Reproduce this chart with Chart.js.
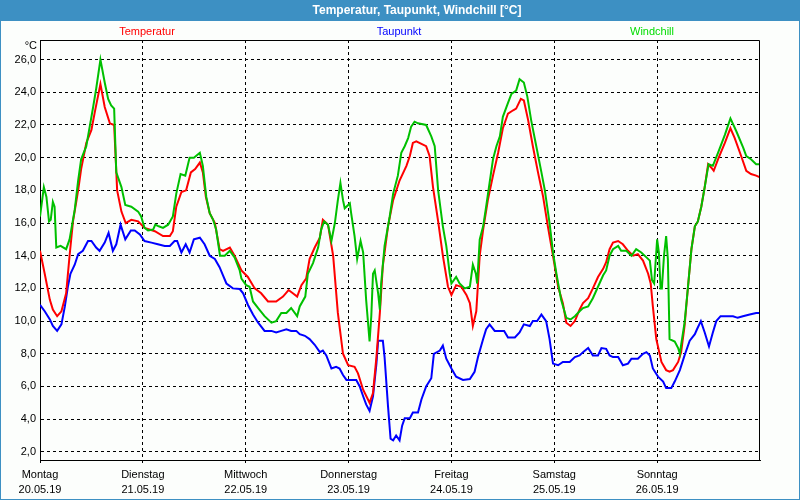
<!DOCTYPE html>
<html><head><meta charset="utf-8">
<script src="https://cdn.jsdelivr.net/npm/chart.js@4/dist/chart.umd.min.js"></script>
<style>html,body{margin:0;padding:0;background:#fff}#wrap{position:relative;width:800px;height:500px}</style>
</head><body><div id="wrap"><canvas id="c" width="800" height="500"></canvas></div>
<script>
const chartTitle = 'Temperatur, Taupunkt, Windchill [°C]';
const unitLabel = '°C';
const seriesNames = ['Temperatur', 'Taupunkt', 'Windchill'];
const dayNames = ['Montag', 'Dienstag', 'Mittwoch', 'Donnerstag', 'Freitag', 'Samstag', 'Sonntag'];
const dayDates = ['20.05.19', '21.05.19', '22.05.19', '23.05.19', '24.05.19', '25.05.19', '26.05.19'];
const dayTicks = [0, 24, 48, 72, 96, 120, 144];
const yTicks = [2, 4, 6, 8, 10, 12, 14, 16, 18, 20, 22, 24, 26];

// Temperatur (hours since Mon 00:00, °C)
const tempHours = [0,1.1,2.3,3.0,4.0,5.0,6.1,6.9,7.7,8.9,9.6,10.8,12.0,12.8,14.1,15.1,16.3,17.3,18.0,19.0,20.0,21.3,22.9,24.4,26.8,28.7,30.3,31.0,31.8,33.0,34.1,35.2,36.2,37.3,38.0,38.7,39.6,40.8,41.9,42.7,44.3,45.4,47.0,48.5,50.1,51.6,53.2,55.1,56.7,58.0,59.0,60.0,61.0,62.1,62.9,64.1,65.3,66.0,67.2,68.4,69.5,70.7,71.9,73.4,74.2,75.4,76.9,77.7,78.5,79.3,80.0,81.2,82.4,83.9,85.5,86.3,87.0,87.8,90.1,90.9,91.7,92.9,94.0,95.2,96.0,97.1,98.3,99.5,100.3,101.0,101.8,102.6,103.4,104.5,105.7,106.9,108.0,109.2,110.4,111.1,112.2,112.9,113.9,115.0,116.2,117.4,118.5,119.7,120.9,122.0,122.8,123.8,124.8,125.9,126.7,127.9,129.0,130.2,131.4,132.1,132.9,133.7,134.9,136.0,137.2,138.4,139.5,140.7,141.9,142.5,143.0,143.8,145.0,146.1,146.9,147.7,148.9,149.6,150.4,151.2,152.0,152.8,153.5,154.3,155.1,155.9,156.6,157.2,158.2,159.8,161.1,162.1,163.6,164.8,165.9,167.1,168];
const tempValues = [14.3,12.9,11.3,10.7,10.3,10.6,11.7,14.0,16.1,18.0,19.3,20.9,21.7,22.8,24.5,23.1,22.1,22.0,18.0,16.7,16.0,16.2,16.1,15.7,15.5,15.2,15.2,15.5,17.0,17.9,18.0,19.1,19.3,19.7,19.1,17.6,16.6,16.0,14.4,14.3,14.5,14.0,13.1,12.7,12.0,11.7,11.2,11.2,11.5,11.9,11.7,11.5,12.2,12.6,13.8,14.5,15.1,16.2,15.9,14.0,10.5,8.0,7.3,7.2,6.8,5.8,5.0,5.6,7.8,10.5,13.4,15.8,17.4,18.6,19.5,20.1,20.9,21.0,20.7,20.1,18.2,16.1,14.0,12.1,11.6,12.2,12.1,11.6,11.1,9.7,10.6,14.0,15.6,17.4,18.9,20.3,21.8,22.7,22.9,23.0,23.6,23.5,22.3,20.7,19.1,17.6,15.8,14.0,12.1,11.1,9.9,9.7,10.0,10.7,11.1,11.4,12.0,12.7,13.2,13.6,14.4,14.8,14.9,14.7,14.3,14.0,14.1,13.7,12.9,12.3,10.9,8.9,7.5,7.0,6.9,7.0,7.5,8.1,9.7,12.1,14.4,15.8,16.1,17.0,18.2,19.6,19.4,19.2,19.9,20.9,21.8,21.2,20.1,19.2,19.0,18.9,18.8];

// Taupunkt
const dewHours = [0,1.1,2.3,3.0,4.0,5.0,5.8,6.5,7.1,8.1,8.9,10.0,11.2,12.0,13.1,13.9,15.1,16.0,17.0,17.8,18.8,19.9,21.2,22.1,23.3,24.4,26.0,27.5,29.1,30.3,31.4,32.0,33.0,34.0,34.9,35.9,37.3,38.4,39.6,40.8,41.9,42.7,43.5,45.0,46.6,47.4,48.5,49.7,50.9,52.4,54.0,55.1,56.3,57.5,58.6,59.8,60.6,61.8,62.9,64.1,65.3,66.0,66.8,68.0,69.1,69.9,70.7,71.5,72.6,73.8,74.6,75.4,76.1,76.9,77.7,78.5,78.9,80.0,80.4,81.2,81.8,82.4,83.1,83.9,84.5,85.1,86.3,87.0,88.2,89.0,90.1,91.3,91.9,93.3,94.0,94.8,96.0,97.1,98.7,100.3,101.4,102.2,103.4,104.1,104.9,106.1,108.3,109.2,110.8,111.9,112.9,114.3,115.0,116.0,117.0,118.1,118.9,119.7,120.9,122.0,123.6,124.8,125.9,126.7,127.9,129.0,130.2,131.0,132.1,132.9,133.7,134.9,136.0,137.2,138.0,139.5,140.7,141.5,142.3,143.0,144.2,145.4,146.1,147.3,148.1,149.3,150.4,151.6,152.8,153.3,154.2,155.1,156.1,157.0,157.8,158.8,160.1,161.7,162.8,164.0,165.6,167.1,168];
const dewValues = [11.0,10.6,10.1,9.7,9.4,9.8,10.9,12.1,12.9,13.45,14.1,14.3,14.9,14.9,14.5,14.3,14.8,15.4,14.3,14.7,15.9,15.0,15.55,15.55,15.3,14.9,14.8,14.7,14.6,14.6,14.9,14.9,14.2,14.7,14.2,15.0,15.1,14.7,14.0,13.8,13.3,12.8,12.3,12.0,11.96,11.7,11.0,10.4,9.9,9.4,9.4,9.3,9.4,9.5,9.4,9.4,9.2,9.1,8.9,8.55,8.1,8.2,7.9,7.1,7.2,7.1,6.7,6.4,6.4,6.4,6.0,5.4,4.9,4.5,5.4,7.4,8.8,8.8,7.8,4.8,2.8,2.7,3.0,2.7,3.6,4.06,4.06,4.4,4.4,5.2,6.0,6.5,8.0,8.2,8.5,7.7,7.1,6.6,6.4,6.45,6.9,7.8,8.9,9.5,9.8,9.4,9.4,9.0,9.0,9.3,9.8,9.7,10.0,10.0,10.4,10.0,8.9,7.4,7.3,7.5,7.5,7.8,7.9,8.1,8.35,7.9,7.9,8.35,8.3,7.9,7.8,7.8,7.3,7.4,7.7,7.7,8.0,8.1,7.9,7.1,6.6,6.3,5.9,5.9,6.3,7.0,7.9,8.8,9.2,9.5,10.0,9.3,8.45,9.3,10.0,10.3,10.3,10.3,10.2,10.3,10.4,10.5,10.5];

// Windchill
const chillHours = [0,0.9,1.5,2.1,2.5,3.0,3.4,3.8,4.8,6.1,6.9,8.1,8.9,9.6,10.8,11.6,12.4,13.1,14.1,15.1,15.9,16.6,17.3,17.8,19.0,19.9,21.3,22.9,23.6,24.4,25.2,26.4,26.9,27.7,28.7,29.9,31.0,31.8,32.8,33.9,34.9,35.9,37.3,38.0,38.8,39.6,40.4,41.1,42.0,43.1,44.3,45.4,46.6,47.0,48.1,48.9,49.7,50.9,52.4,54.0,55.1,56.3,57.5,58.6,60.0,60.6,61.9,62.5,63.7,64.9,65.6,66.3,67.2,68.0,68.8,69.5,70.1,70.7,71.1,72.3,72.6,73.4,74.0,74.8,75.4,76.1,76.9,77.3,77.7,78.1,78.9,79.3,79.6,80.4,81.6,82.4,83.5,84.3,85.1,85.9,86.6,87.4,88.2,90.1,91.3,92.1,92.9,94.0,94.8,95.6,96.0,97.1,97.9,99.1,100.3,101.0,101.7,102.0,102.6,103.4,104.1,104.9,105.7,106.5,107.3,108.0,109.2,110.0,111.1,111.9,112.9,113.7,114.6,115.8,117.0,117.8,118.9,119.7,120.5,121.6,122.8,123.8,124.8,125.9,126.7,127.9,129.0,130.2,131.4,132.1,132.9,133.7,134.9,135.6,136.8,138.0,139.1,140.3,141.5,142.3,142.8,143.3,144.0,144.4,144.8,145.1,145.6,146.1,146.5,146.9,148.1,148.9,149.3,149.6,150.4,151.2,152.0,152.8,153.5,154.3,155.1,156.0,157.0,158.2,159.8,161.1,162.5,164.1,164.8,165.9,167.1,168];
const chillValues = [16.4,18.2,17.6,16.1,16.2,17.3,17.0,14.5,14.6,14.4,15.0,16.8,18.6,19.9,20.7,21.9,23.1,24.2,26.0,24.6,23.6,23.2,23.0,19.1,18.2,17.1,17.0,16.7,16.4,15.7,15.55,15.6,15.9,15.8,15.7,15.9,16.4,17.8,19.0,18.9,20.0,20.0,20.3,19.5,17.6,16.6,16.2,15.6,14.0,14.0,14.3,13.9,13.1,12.6,12.2,12.1,11.2,10.8,10.3,9.9,10.0,10.5,10.5,10.8,10.3,10.9,11.5,12.9,13.55,14.5,15.6,16.1,15.9,14.9,16.0,17.4,18.45,17.4,16.9,17.2,16.6,15.2,13.8,14.9,14.2,11.3,8.75,10.3,12.9,13.1,11.7,10.7,12.3,14.6,16.4,17.8,18.9,20.3,20.7,21.2,21.9,22.2,22.1,22.0,21.3,20.7,18.0,15.8,14.6,12.9,12.3,12.7,12.3,12.0,12.1,13.45,12.9,12.3,15.0,15.8,17.0,18.45,19.9,20.7,21.3,22.5,23.35,23.9,24.1,24.8,24.6,23.75,22.3,20.7,19.1,18.0,16.0,14.2,12.9,11.3,10.2,10.1,10.3,10.6,10.8,10.9,11.4,12.1,12.8,13.1,14.0,14.4,14.6,14.3,14.3,14.0,14.4,14.2,13.9,13.7,12.5,12.3,15.0,14.2,12.0,12.0,14.0,15.2,13.8,8.9,8.75,8.35,8.0,8.55,9.9,12.1,14.4,15.8,16.1,17.0,18.2,19.6,19.5,20.3,21.4,22.4,21.6,20.6,20.1,19.9,19.6,19.6];

const FONT = '"Liberation Sans", Arial, sans-serif';
const lineColors = ['#ff0000', '#0000ff', '#00c000'];
const labelColors = ['#ff0000', '#0000ff', '#00dd00'];
const labelCenters = [147, 399, 652];

function pts(h, v) { return h.map((x, i) => ({ x: x, y: v[i] })); }

const framePlugin = {
  id: 'frame',
  beforeDraw(chart) {
    const ctx = chart.ctx, W = chart.width, H = chart.height;
    ctx.save();
    ctx.fillStyle = '#fcfefc';
    ctx.fillRect(0, 0, W, H);
    ctx.fillStyle = '#3d90c3';
    ctx.fillRect(0, 0, W, 21);
    ctx.strokeStyle = '#3d90c3';
    ctx.lineWidth = 1;
    ctx.strokeRect(0.5, 0.5, W - 1, H - 1);
    ctx.fillStyle = '#ffffff';
    ctx.font = 'bold 12px ' + FONT;
    ctx.textAlign = 'center';
    ctx.textBaseline = 'middle';
    ctx.fillText(chartTitle, 417, 11);
    ctx.restore();
  },
  afterDraw(chart) {
    const ctx = chart.ctx, a = chart.chartArea;
    ctx.save();
    ctx.strokeStyle = '#000';
    ctx.lineWidth = 1;
    ctx.beginPath();
    ctx.moveTo(Math.round(a.left) + 0.5, Math.round(a.top) + 0.5);
    ctx.lineTo(Math.round(a.right) - 0.5, Math.round(a.top) + 0.5);
    ctx.lineTo(Math.round(a.right) - 0.5, Math.round(a.bottom) + 0.5);
    ctx.stroke();
    ctx.font = '11px ' + FONT;
    ctx.textBaseline = 'middle';
    ctx.textAlign = 'center';
    seriesNames.forEach((n, i) => {
      ctx.fillStyle = labelColors[i];
      ctx.fillText(n, labelCenters[i], 32);
    });
    ctx.fillStyle = '#000';
    ctx.textAlign = 'right';
    ctx.fillText(unitLabel, 37, 46);
    ctx.restore();
  }
};

new Chart(document.getElementById('c'), {
  type: 'line',
  data: {
    datasets: [
      { label: seriesNames[0], data: pts(tempHours, tempValues), borderColor: lineColors[0], order: 1 },
      { label: seriesNames[1], data: pts(dewHours, dewValues), borderColor: lineColors[1], order: 2 },
      { label: seriesNames[2], data: pts(chillHours, chillValues), borderColor: lineColors[2], order: 0 }
    ]
  },
  options: {
    responsive: false,
    animation: false,
    parsing: false,
    layout: { padding: { left: 0, right: 40, top: 40, bottom: 0 } },
    elements: {
      line: { borderWidth: 2, tension: 0, fill: false, borderJoinStyle: 'miter' },
      point: { radius: 0, hoverRadius: 0 }
    },
    plugins: { legend: { display: false }, tooltip: { enabled: false }, title: { display: false } },
    scales: {
      x: {
        type: 'linear', min: 0, max: 168,
        afterBuildTicks: s => { s.ticks = dayTicks.map(v => ({ value: v })); },
        afterFit: s => { s.height = 40; },
        ticks: {
          autoSkip: false, maxRotation: 0, minRotation: 0, padding: 4, color: '#000',
          font: { family: FONT, size: 11, lineHeight: '15px' },
          callback: (v, i) => [dayNames[i], dayDates[i]]
        },
        grid: { color: '#000', lineWidth: 1, drawTicks: true, tickLength: 3 },
        border: { display: true, color: '#000', width: 1, dash: [3, 3] }
      },
      y: {
        type: 'linear', min: 1.5, max: 27.2,
        afterBuildTicks: s => { s.ticks = yTicks.map(v => ({ value: v })); },
        afterFit: s => { s.width = 40; },
        ticks: {
          padding: 4, color: '#000',
          font: { family: FONT, size: 11 },
          callback: v => v.toFixed(1).replace('.', ',')
        },
        grid: { color: '#000', lineWidth: 1, drawTicks: false },
        border: { display: true, color: '#000', width: 1, dash: [3, 3] }
      }
    }
  },
  plugins: [framePlugin]
});
</script>
</body></html>
